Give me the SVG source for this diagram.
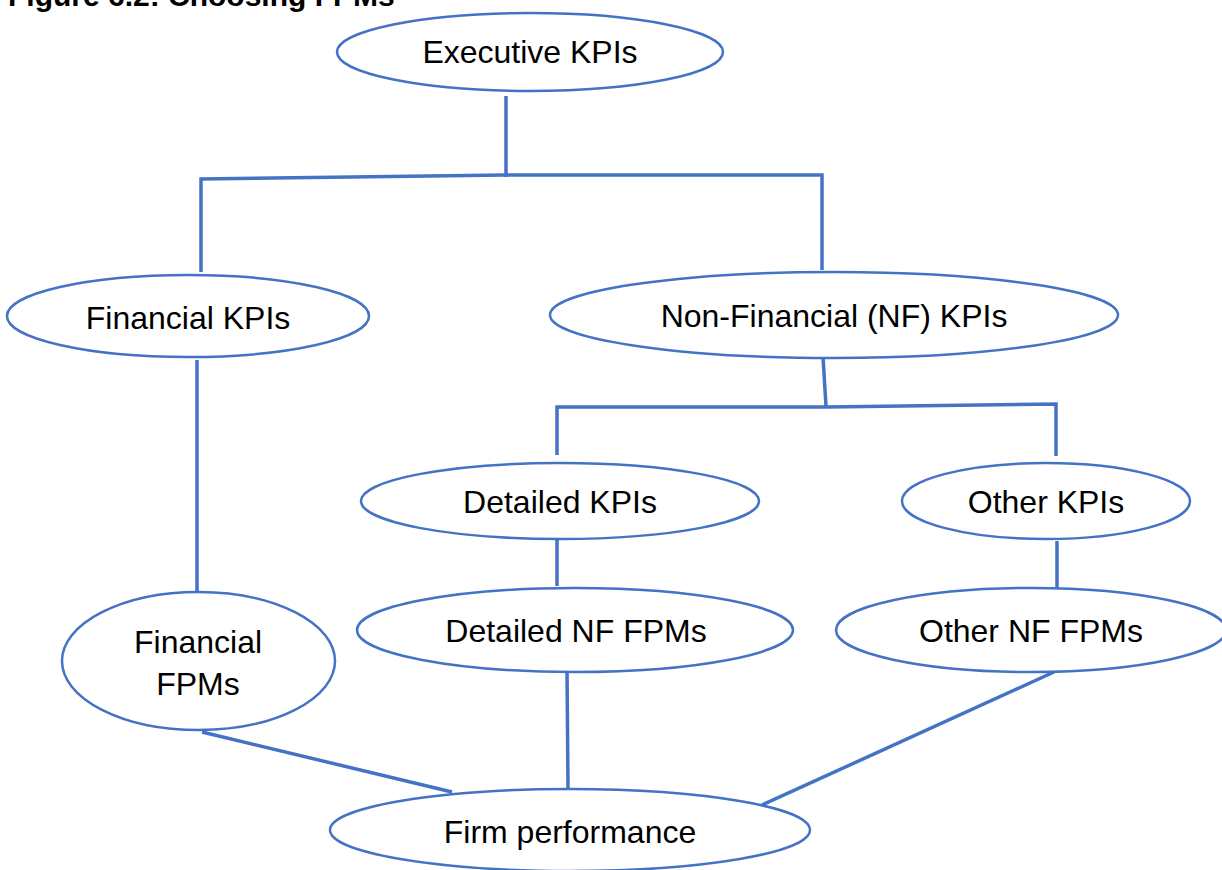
<svg xmlns="http://www.w3.org/2000/svg" width="1222" height="870" viewBox="0 0 1222 870">
<style>
.node ellipse{fill:#fff;stroke:#4472C4;stroke-width:2.5}
.node text{font-family:"Liberation Sans",Arial,sans-serif;font-size:32px;fill:#000;text-anchor:middle}
#connectors path{fill:none;stroke:#4472C4;stroke-width:3.5;stroke-linejoin:miter}
.title{font-family:"Liberation Sans",Arial,sans-serif;font-size:30px;font-weight:bold;fill:#000}
</style>
<rect width="1222" height="870" fill="#fff"/>
<text class="title" x="8" y="6">Figure 6.2: Choosing FPMs</text>
<g id="connectors">
<path d="M506,96 V177"/>
<path d="M201,272 V179 L506,175 H822 V270"/>
<path d="M197,360 V592"/>
<path d="M823,357 L826,406"/>
<path d="M557,455 V407 H826 L1056,404 V456"/>
<path d="M557,538 V586"/>
<path d="M1057,541 V588"/>
<path d="M202,732 L452,792"/>
<path d="M567,669 L568,788"/>
<path d="M1054,672 L762,805"/>
</g>
<g id="executive-kpis" class="node"><ellipse cx="530" cy="52" rx="193" ry="39"/><text x="530" y="63">Executive KPIs</text></g>
<g id="financial-kpis" class="node"><ellipse cx="188" cy="316" rx="181" ry="41"/><text x="188" y="329">Financial KPIs</text></g>
<g id="nf-kpis" class="node"><ellipse cx="834" cy="315" rx="284" ry="43"/><text x="834" y="327">Non-Financial (NF) KPIs</text></g>
<g id="detailed-kpis" class="node"><ellipse cx="560" cy="501" rx="199" ry="38"/><text x="560" y="513">Detailed KPIs</text></g>
<g id="other-kpis" class="node"><ellipse cx="1046" cy="501" rx="144" ry="38"/><text x="1046" y="513">Other KPIs</text></g>
<g id="detailed-nf-fpms" class="node"><ellipse cx="575" cy="630" rx="218" ry="42"/><text x="576" y="642">Detailed NF FPMs</text></g>
<g id="other-nf-fpms" class="node"><ellipse cx="1031" cy="630" rx="195" ry="42"/><text x="1031" y="642">Other NF FPMs</text></g>
<g id="financial-fpms" class="node"><ellipse cx="198.5" cy="661" rx="136.5" ry="69"/><text x="198" y="653">Financial</text><text x="198" y="695">FPMs</text></g>
<g id="firm-performance" class="node"><ellipse cx="570" cy="830" rx="240" ry="41"/><text x="570" y="843">Firm performance</text></g>
</svg>
